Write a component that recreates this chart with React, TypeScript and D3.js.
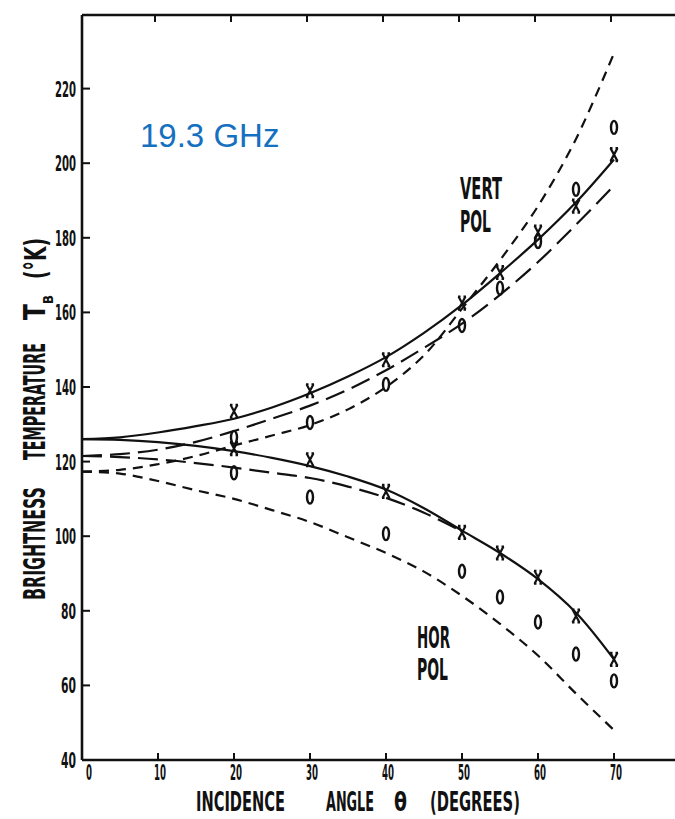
import React from 'react';
import * as d3 from 'd3';

// ---- data ----
const angles = [0, 5, 10, 15, 20, 25, 30, 35, 40, 45, 50, 55, 60, 65, 70];
const vertSolid = [126, 126.5, 127.8, 129.5, 131.5, 134.5, 138.3, 142.8, 148, 154.5, 162, 170.5, 179.5, 189.5, 201];
const vertLongDash = [121.5, 122, 123.2, 125.3, 128.2, 131.5, 135, 139.3, 144.5, 150.5, 157, 164.7, 173.5, 183.5, 194];
const vertShortDash = [117.3, 117.8, 119.3, 121.5, 124.3, 127, 129.8, 134, 140, 148.5, 161, 174, 188.5, 206.5, 229.5];
const horSolid = [126, 125.8, 125.2, 124.2, 122.8, 121, 118.8, 116, 112.5, 107.5, 101.5, 95.5, 88.5, 79.5, 67];
const horLongAngles = [0, 5, 10, 15, 20, 25, 30, 35, 40, 45, 50];
const horLongDash = [121.5, 121.2, 120.6, 119.6, 118.4, 117, 115.6, 113.3, 110.3, 106.3, 101.3];
const horShortDash = [117.3, 116.8, 114.8, 112.3, 110, 107, 103.8, 99.7, 95.5, 90.5, 84, 76.5, 68, 57.8, 48];

const markerAngles = [20, 30, 40, 50, 55, 60, 65, 70];
const vertX = [133.5, 139, 147.3, 162.5, 170.7, 181.5, 188.5, 202.3];
const vertO = [126.5, 130.5, 140.7, 156.5, 166.5, 179, 193, 209.6];
const horX = [123.5, 120.5, 112, 101, 95.5, 89, 78.6, 67];
const horO = [117, 110.5, 100.7, 90.6, 83.7, 77, 68.4, 61.2];

const xTicks = [0, 10, 20, 30, 40, 50, 60, 70];
const yTicks = [40, 60, 80, 100, 120, 140, 160, 180, 200, 220];

const W = 675;
const H = 819;
const FONT = '"Liberation Sans Narrow", "DejaVu Sans Condensed", "Liberation Sans", sans-serif';

let ctx: CanvasRenderingContext2D | null = null;
function naturalWidth(s: string, size: number): number {
  if (!ctx) {
    const c = document.createElement('canvas');
    ctx = c.getContext('2d');
  }
  if (!ctx) return s.length * size * 0.5;
  ctx.font = `bold ${size}px ${FONT}`;
  return ctx.measureText(s).width || s.length * size * 0.5;
}

// condensed text squeezed horizontally to a target width
function Fit(props: { s: string; x: number; y: number; w: number; size: number; rot?: boolean }) {
  const { s, x, y, w, size, rot } = props;
  const sx = w / naturalWidth(s, size);
  const tr = rot
    ? `translate(${x},${y}) rotate(-90) scale(${sx},1)`
    : `translate(${x},${y}) scale(${sx},1)`;
  return (
    <text transform={tr} fontSize={size} fontFamily={FONT} fontWeight="bold" fill="#111">
      {s}
    </text>
  );
}

export default function App() {
  const x = d3.scaleLinear().domain([0, 78]).range([82, 674.8]);
  const y = d3.scaleLinear().domain([40, 240]).range([760, 14]);

  const line = d3
    .line<[number, number]>()
    .x((d) => x(d[0]))
    .y((d) => y(d[1]))
    .curve(d3.curveCatmullRom.alpha(0.5));

  const zip = (a: number[], b: number[]) => a.map((v, i) => [v, b[i]] as [number, number]);

  const curves = [
    { vals: zip(angles, vertSolid), dash: undefined },
    { vals: zip(angles, vertLongDash), dash: '20,8' },
    { vals: zip(angles, vertShortDash), dash: '10,7' },
    { vals: zip(angles, horSolid), dash: undefined },
    { vals: zip(horLongAngles, horLongDash), dash: '20,8' },
    { vals: zip(angles, horShortDash), dash: '10,7' },
  ];

  const xMark = 'M-3.5,-6.5 L3.5,6.5 M3.5,-6.5 L-3.5,6.5 M-4,-6.5 L-1.5,-6.5 M1.5,-6.5 L4,-6.5 M-4,6.5 L-1.5,6.5 M1.5,6.5 L4,6.5';

  const left = x(0);
  const bottom = y(40);
  const top = 15;

  return (
    <svg width={W} height={H} style={{ position: 'absolute', left: 0, top: 0, background: '#fff' }}>
      <rect x={0} y={0} width={W} height={H} fill="#fff" />
      {/* frame */}
      <g stroke="#111" strokeWidth={2.6} fill="none">
        <line x1={left} y1={top} x2={W} y2={top} />
        <line x1={left} y1={top} x2={left} y2={bottom} />
        <line x1={left} y1={bottom} x2={W} y2={bottom} />
      </g>
      {/* ticks */}
      <g stroke="#111" strokeWidth={2}>
        {xTicks.filter((t) => t > 0).map((t) => (
          <g key={'xt' + t}>
            <line x1={x(t)} x2={x(t)} y1={bottom} y2={bottom - 7} />
            <line x1={x(t) - 3} x2={x(t) - 3} y1={top} y2={top + 7} />
          </g>
        ))}
        {yTicks.filter((t) => t > 40).map((t) => (
          <line key={'yt' + t} x1={left} x2={left + 8} y1={y(t)} y2={y(t)} />
        ))}
      </g>
      {/* tick labels */}
      {yTicks.map((t) => {
        const s = String(t);
        const w = s.length === 3 ? 21 : 15;
        return <Fit key={'yl' + t} s={s} x={76 - w} y={y(t) + 8} w={w} size={21} />;
      })}
      {xTicks.map((t) => {
        const s = String(t);
        const w = s.length === 2 ? 12 : 6;
        return <Fit key={'xl' + t} s={s} x={t === 0 ? 86 : x(t) + 2 - w / 2} y={780} w={w} size={21} />;
      })}
      {/* curves */}
      <g fill="none" stroke="#111" strokeWidth={2.2}>
        {curves.map((c, i) => (
          <path key={'c' + i} d={line(c.vals) || ''} strokeDasharray={c.dash} />
        ))}
      </g>
      {/* markers */}
      <g stroke="#111" fill="none" strokeWidth={2.2}>
        {markerAngles.map((a, i) => (
          <g key={'m' + a}>
            <path d={xMark} transform={`translate(${x(a)},${y(vertX[i])})`} />
            <path d={xMark} transform={`translate(${x(a)},${y(horX[i])})`} />
            <ellipse cx={x(a)} cy={y(vertO[i])} rx={3} ry={6.5} strokeWidth={2.4} />
            <ellipse cx={x(a)} cy={y(horO[i])} rx={3} ry={6.5} strokeWidth={2.4} />
          </g>
        ))}
      </g>
      {/* annotations */}
      <Fit s="VERT" x={460} y={199} w={42} size={30} />
      <Fit s="POL" x={460} y={232} w={31} size={30} />
      <Fit s="HOR" x={417} y={648} w={33} size={30} />
      <Fit s="POL" x={417} y={680} w={31} size={30} />
      <text x={140} y={147} fontFamily='"Liberation Sans", Arial, sans-serif' fontSize={33} fill="#1670c0">
        19.3 GHz
      </text>
      {/* x axis title */}
      <Fit s="INCIDENCE" x={196} y={811} w={89} size={26} />
      <Fit s="ANGLE" x={326} y={811} w={48} size={26} />
      <Fit s="θ" x={394} y={811} w={13} size={26} />
      <Fit s="(DEGREES)" x={430} y={811} w={90} size={26} />
      {/* y axis title */}
      <Fit s="BRIGHTNESS" x={45} y={600} w={113} size={30} rot />
      <Fit s="TEMPERATURE" x={45} y={460} w={117} size={30} rot />
      <Fit s="T" x={45} y={320} w={16} size={30} rot />
      <Fit s="B" x={53} y={304} w={9} size={14} rot />
      <Fit s="(°K)" x={46} y={279} w={41} size={30} rot />
    </svg>
  );
}
